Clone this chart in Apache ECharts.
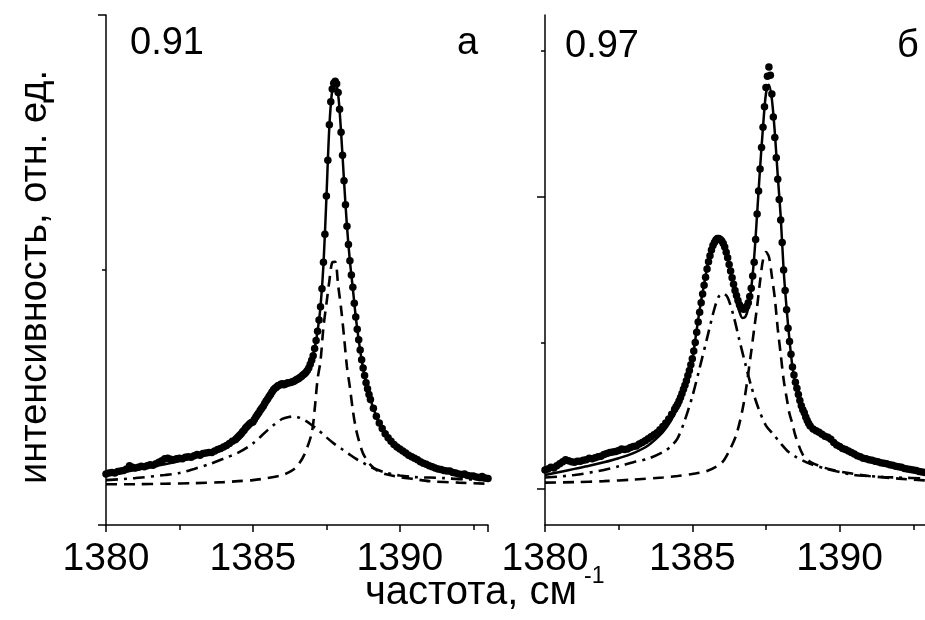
<!DOCTYPE html>
<html>
<head>
<meta charset="utf-8">
<script src="https://cdn.jsdelivr.net/npm/echarts@6/dist/echarts.min.js"></script>
<style>html,body{margin:0;padding:0;background:#fff}#c{width:925px;height:620px}</style>
</head>
<body>
<div id="c"></div>
<script>
// ---- experimental points (x grid shared by both panels) ----
const dotX = [
1380.0,1380.1,1380.2,1380.3,1380.4,1380.5,1380.6,1380.7,1380.8,1380.9,
1381.0,1381.1,1381.2,1381.3,1381.4,1381.5,1381.6,1381.7,1381.8,1381.9,
1382.0,1382.1,1382.2,1382.3,1382.4,1382.5,1382.6,1382.7,1382.8,1382.9,
1383.0,1383.1,1383.2,1383.3,1383.4,1383.5,1383.6,1383.7,1383.8,1383.9,
1384.0,1384.1,1384.2,1384.3,1384.4,
1384.45,1384.5,1384.55,1384.6,1384.65,1384.7,1384.75,1384.8,1384.85,1384.9,1384.95,
1385.0,1385.05,1385.1,1385.15,1385.2,1385.25,1385.3,1385.35,1385.4,1385.45,1385.5,1385.55,1385.6,1385.65,1385.7,1385.75,1385.8,1385.85,1385.9,1385.95,
1386.0,1386.05,1386.1,1386.15,1386.2,1386.25,1386.3,1386.35,1386.4,1386.45,1386.5,1386.55,1386.6,1386.65,1386.7,1386.75,1386.8,1386.85,1386.9,1386.95,
1387.0,1387.05,1387.1,1387.15,1387.2,1387.25,1387.3,1387.35,1387.4,1387.45,1387.5,1387.55,1387.6,1387.65,1387.7,1387.75,1387.8,1387.85,1387.9,1387.95,
1388.0,1388.05,1388.1,1388.15,1388.2,1388.25,1388.3,1388.35,1388.4,1388.45,1388.5,1388.55,1388.6,1388.65,1388.7,1388.75,1388.8,1388.85,1388.9,1388.95,
1389.0,
1389.1,1389.2,1389.3,1389.4,1389.5,1389.6,1389.7,1389.8,1389.9,
1390.0,1390.1,1390.2,1390.3,1390.4,1390.5,1390.6,1390.7,1390.8,1390.9,
1391.0,1391.1,1391.2,1391.3,1391.4,1391.5,1391.6,1391.7,1391.8,1391.9,
1392.0,1392.1,1392.2,1392.3,1392.4,1392.5,1392.6,1392.7,1392.8,1392.9,
1393.0];

const dotsA = [
10.0,10.2,10.3,10.2,10.5,10.6,10.7,11.0,11.6,11.3,
11.2,11.3,11.5,11.4,11.6,11.8,11.7,12.0,12.3,12.6,
13.0,13.1,12.9,12.8,13.0,13.1,13.0,13.3,13.4,13.3,
13.6,13.8,13.7,14.0,14.1,14.2,14.2,14.5,14.8,15.0,
15.3,15.6,16.0,16.4,16.7,
17.0,17.3,17.6,17.9,18.3,18.6,19.0,19.3,19.6,19.9,20.1,
20.2,20.7,21.2,21.6,22.0,22.5,22.9,23.3,23.8,24.3,24.7,25.2,25.6,26.1,26.5,26.8,27.0,27.3,27.4,27.6,
27.7,27.5,27.6,27.8,27.9,27.9,28.0,28.1,28.2,28.4,28.6,28.7,28.9,29.1,29.4,29.6,29.9,30.3,30.8,31.5,
32.3,33.2,34.6,36.2,38.0,40.2,42.8,46.3,51.5,57.0,64.5,71.5,78.5,83.0,85.5,86.6,87.0,86.5,84.8,81.5,
77.0,72.5,67.5,62.8,58.6,55.0,51.8,49.0,46.6,43.5,40.8,38.4,36.3,34.3,32.4,30.8,29.3,27.9,26.7,25.6,
24.6,
22.9,21.3,20.0,18.9,17.9,17.1,16.4,15.8,15.3,
14.9,14.5,14.1,13.7,13.4,13.1,12.8,12.4,12.1,11.9,
11.6,11.4,11.2,11.0,10.9,10.7,10.6,10.6,10.3,10.2,
10.0,9.9,10.0,9.7,9.6,9.6,9.4,9.3,9.5,9.2,
9.1];

const dotsB = [
10.8,11.0,11.3,11.2,11.6,12.0,12.4,12.8,12.6,12.4,
12.3,12.5,12.5,12.7,12.8,13.1,13.0,13.2,13.4,13.5,
13.8,14.0,14.2,14.3,14.4,14.6,14.9,14.8,14.9,15.2,
15.4,15.5,15.9,16.2,16.5,16.9,17.3,17.7,18.1,18.7,
19.3,20.0,20.8,21.7,22.7,
23.2,23.7,24.3,25.0,25.8,26.6,27.4,28.3,29.3,30.3,31.4,
32.6,34.1,35.8,37.8,39.8,41.7,43.6,45.3,47.0,48.6,50.2,51.6,52.8,53.9,54.8,55.4,55.9,56.2,56.2,56.0,
55.7,55.2,54.5,53.5,52.4,51.1,49.8,48.5,47.2,46.0,45.0,44.0,43.2,42.7,42.4,42.3,42.5,42.9,43.6,44.8,
46.4,48.8,51.5,56.0,61.0,65.5,69.8,74.0,78.0,82.0,85.8,88.0,89.8,88.2,84.5,80.0,76.0,72.0,67.8,63.8,
59.8,55.4,50.0,46.0,42.2,38.6,36.0,33.5,31.0,29.4,28.0,26.8,25.6,24.4,23.4,22.6,22.0,21.2,20.5,19.9,
19.4,
18.8,18.5,18.2,17.8,17.4,17.2,16.8,16.2,15.7,
15.4,15.0,14.8,14.5,14.2,13.9,13.6,13.4,13.1,13.0,
12.8,12.7,12.5,12.4,12.2,12.1,12.0,11.8,11.7,11.5,
11.4,11.3,11.1,11.0,10.9,10.8,10.7,10.5,10.4,10.3,
10.2];

// ---- panel a: fit curves ----
const fitAx = [1380,1381,1382,1383,1383.5,1384,1384.5,1385,1385.25,1385.5,1385.75,1386,1386.25,1386.5,1386.75,1387,
  1387.1,1387.2,1387.3,1387.4,1387.5,1387.6,1387.7,1387.8,1387.9,1388,1388.1,1388.2,1388.3,1388.4,1388.5,1388.6,1388.7,1388.8,1388.9,1389,
  1389.25,1389.5,1389.75,1390,1390.5,1391,1391.5,1392,1392.5,1393];
const fitAy = [9.8,10.8,11.9,13.2,14.0,15.2,17.2,20.2,22.4,24.6,26.5,27.5,27.9,28.5,29.6,32.3,
  34.6,38.0,42.8,51.0,64.0,78.0,85.3,86.7,84.5,77.0,67.5,58.6,51.8,46.4,40.8,36.3,32.4,29.3,26.7,24.6,
  20.6,17.9,16.1,14.9,13.1,11.6,10.7,10.0,9.5,9.1];
const narrowAx = [1380,1381,1382,1383,1384,1384.5,1385,1385.5,1386,1386.25,1386.5,1386.75,1387,
  1387.1,1387.2,1387.3,1387.4,1387.5,1387.6,1387.7,1387.8,1387.9,1388,1388.1,1388.2,1388.3,1388.4,1388.5,1388.6,
  1388.75,1389,1389.25,1389.5,1390,1390.5,1391,1392,1393];
const narrowAy = [8.0,8.0,8.1,8.2,8.4,8.6,8.8,9.2,9.8,10.4,11.5,13.8,18.0,
  22.6,28.6,32.2,38.8,43.3,47.8,51.5,51.6,47.0,42.5,37.0,31.0,27.0,22.5,19.0,16.7,
  14.0,11.8,10.6,10.0,9.4,9.0,8.6,8.3,8.1];
const broadAx = [1380,1381,1382,1382.5,1383,1383.5,1384,1384.5,1385,1385.5,1385.75,1386,1386.25,1386.4,1386.6,1386.8,1387,
  1387.25,1387.5,1387.75,1388,1388.25,1388.5,1388.75,1389,1389.5,1390,1390.5,1391,1391.5,1392,1392.5,1393];
const broadAy = [8.8,9.2,9.8,10.2,11.0,11.9,13.0,14.2,16.0,18.6,19.8,20.8,21.2,21.3,21.0,20.4,19.6,
  18.5,17.2,16.0,15.0,14.0,13.0,12.2,11.4,10.3,9.7,9.4,9.3,9.2,9.0,8.9,8.8];

// ---- panel б: fit curves ----
const fitBx = [1380,1380.5,1381,1381.5,1382,1382.5,1383,1383.5,1384,1384.25,1384.5,1384.75,1385,
  1385.1,1385.2,1385.3,1385.4,1385.5,1385.6,1385.7,1385.8,1385.9,1386,1386.1,1386.2,1386.3,1386.4,1386.5,1386.6,1386.7,1386.8,1386.9,1387,
  1387.1,1387.2,1387.3,1387.4,1387.5,1387.6,1387.7,1387.8,1387.9,1388,1388.1,1388.2,1388.3,1388.4,1388.5,1388.6,
  1388.75,1389,1389.25,1389.5,1390,1390.5,1391,1391.5,1392,1392.5,1393];
const fitBy = [9.8,10.4,11.0,11.6,12.3,13.1,14.1,15.6,18.2,20.2,23.0,27.0,32.5,
  36.3,40.3,44.0,47.2,50.4,53.0,54.9,55.9,56.0,55.4,54.0,52.4,49.6,46.6,43.8,41.8,40.6,40.8,42.6,46.4,
  52.5,61.0,70.0,78.0,84.6,86.3,83.5,77.0,68.5,60.5,50.0,42.5,36.2,31.0,27.8,25.2,
  22.0,19.4,18.1,17.1,15.5,13.8,12.8,12.0,11.2,10.6,10.0];
const narrowBx = [1380,1381,1382,1383,1384,1384.5,1385,1385.5,1386,1386.25,1386.5,1386.75,1387,
  1387.1,1387.2,1387.3,1387.4,1387.5,1387.6,1387.7,1387.8,1387.9,1388,1388.1,1388.2,1388.3,1388.4,1388.5,
  1388.75,1389,1389.5,1390,1390.5,1391,1392,1393];
const narrowBy = [8.3,8.4,8.6,8.9,9.3,9.6,10.0,10.6,12.2,14.5,17.8,24.0,34.0,
  38.5,42.8,47.8,52.0,53.5,52.6,48.8,44.5,38.5,33.5,28.5,25.0,21.8,19.8,17.5,
  13.8,12.4,11.2,10.5,10.0,9.6,9.1,8.7];
const broadBx = [1380,1381,1382,1382.5,1383,1383.5,1384,1384.25,1384.5,1384.75,1385,1385.25,1385.5,1385.75,
  1385.9,1386.05,1386.2,1386.4,1386.6,1386.8,1387,1387.25,1387.5,1387.75,1388,1388.25,1388.5,
  1389,1389.5,1390,1390.5,1391,1391.5,1392,1393];
const broadBy = [9.3,9.8,10.8,11.5,12.3,13.0,14.3,15.3,17.0,20.6,25.2,30.8,36.6,42.4,
  44.8,45.4,44.6,41.0,36.2,31.6,27.2,22.8,19.5,17.8,16.0,14.4,13.4,
  12.0,11.1,10.4,9.8,9.6,9.4,9.3,9.1];

// ---- axes / labels ----
const xTicks = {min: 1380, max: 1393, interval: 5};
const xTickLabels = [1380, 1385, 1390];
const yRange = {min: 0, max: 100};
const rightMajorTicks = [7.2, 64.4];
const rightMinorTicks = [35.8, 93.0];
const panelText = [['0.91', 'а'], ['0.97', 'б']];
const yTitle = 'интенсивность, отн. ед.';
const xTitle = 'частота, см';
const xTitleSup = '-1';

const FONT = '"Liberation Sans", Arial, sans-serif';
const pair = (xs, ys) => xs.map((x, i) => [x, ys[i]]);

function xAxisCfg(grid) {
  return {
    type: 'value', gridIndex: grid, position: 'bottom',
    min: xTicks.min, max: xTicks.max, interval: xTicks.interval,
    axisLine: {show: true, onZero: false, lineStyle: {color: '#000', width: 1.5}},
    axisTick: {show: true, inside: false, length: 7, lineStyle: {color: '#000', width: 1.5}},
    minorTick: {show: true, splitNumber: 2, length: 5, lineStyle: {color: '#000', width: 1.5}},
    splitLine: {show: false}, minorSplitLine: {show: false},
    axisLabel: {show: true, color: '#000', fontSize: 39, fontFamily: FONT, margin: 15,
      customValues: xTickLabels, hideOverlap: false,
      formatter: v => String(v)}
  };
}
function yAxisBase(grid) {
  return {
    type: 'value', gridIndex: grid, position: 'left', min: yRange.min, max: yRange.max,
    splitLine: {show: false}, axisLabel: {show: false},
    axisLine: {show: true, onZero: false, lineStyle: {color: '#000', width: 1.5}}
  };
}

const lineS = (name, xs, ys, xi, yi, type, width) => ({
  type: 'line', name, xAxisIndex: xi, yAxisIndex: yi, data: pair(xs, ys),
  showSymbol: false, symbol: 'none', smooth: 0.3, z: 3,
  lineStyle: {color: '#000', width, type}
});
const dotS = (xi, yi, ys) => ({
  type: 'scatter', xAxisIndex: xi, yAxisIndex: yi, data: pair(dotX, ys), symbolSize: 7.5,
  itemStyle: {color: '#000', opacity: 1}, z: 4
});

const textStyle = (text, size, align) => ({
  text, fill: '#000', font: size + 'px ' + FONT,
  textAlign: align, textVerticalAlign: 'middle', align: align, verticalAlign: 'middle'
});

const chart = echarts.init(document.getElementById('c'), null, {renderer: 'canvas'});
chart.setOption({
  animation: false,
  backgroundColor: '#fff',
  grid: [
    {left: 106, top: 15, width: 382, height: 510, containLabel: false, outerBoundsMode: 'none'},
    {left: 545, top: 15, width: 383, height: 510, containLabel: false, outerBoundsMode: 'none'}
  ],
  xAxis: [xAxisCfg(0), xAxisCfg(1)],
  yAxis: [
    Object.assign(yAxisBase(0), {
      interval: 100,
      axisTick: {show: true, length: 8, lineStyle: {color: '#000', width: 1.5}},
      minorTick: {show: true, splitNumber: 2, length: 4, lineStyle: {color: '#000', width: 1.5}}
    }),
    Object.assign(yAxisBase(1), {
      axisTick: {show: true, length: 8, customValues: rightMajorTicks, lineStyle: {color: '#000', width: 1.5}}
    }),
    Object.assign(yAxisBase(1), {
      axisLine: {show: false},
      axisTick: {show: true, length: 4, customValues: rightMinorTicks, lineStyle: {color: '#000', width: 1.5}}
    })
  ],
  series: [
    lineS('narrowA', narrowAx, narrowAy, 0, 0, [11, 7], 2.6),
    lineS('broadA', broadAx, broadAy, 0, 0, [12, 6, 3, 6], 2.6),
    lineS('fitA', fitAx, fitAy, 0, 0, 'solid', 2.5),
    dotS(0, 0, dotsA),
    lineS('narrowB', narrowBx, narrowBy, 1, 1, [11, 7], 2.6),
    lineS('broadB', broadBx, broadBy, 1, 1, [12, 6, 3, 6], 2.6),
    lineS('fitB', fitBx, fitBy, 1, 1, 'solid', 2.5),
    dotS(1, 1, dotsB)
  ],
  graphic: [
    {type: 'text', x: 130, y: 44, style: textStyle(panelText[0][0], 38, 'left')},
    {type: 'text', x: 457, y: 44, style: textStyle(panelText[0][1], 38, 'left')},
    {type: 'text', x: 565, y: 47, style: textStyle(panelText[1][0], 38, 'left')},
    {type: 'text', x: 897, y: 47, style: textStyle(panelText[1][1], 38, 'left')},
    {type: 'text', x: 36, y: 277, rotation: Math.PI / 2, style: textStyle(yTitle, 38, 'center')},
    {type: 'text', x: 471, y: 593, style: textStyle(xTitle, 40, 'center')},
    {type: 'text', x: 584, y: 577, style: textStyle(xTitleSup, 23, 'left')}
  ]
});
</script>
</body>
</html>
